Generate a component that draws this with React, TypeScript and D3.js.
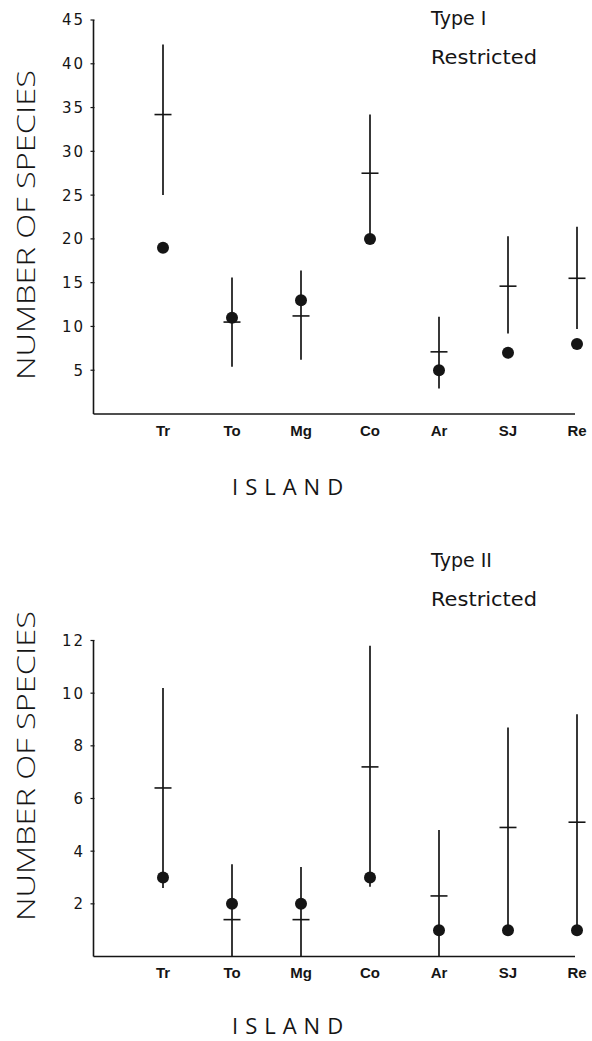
import React from "react";
import * as d3 from "d3";

const categories = ["Tr", "To", "Mg", "Co", "Ar", "SJ", "Re"];

// Type I restricted
const t1Upper = [42.2, 15.6, 16.4, 34.2, 11.1, 20.3, 21.4];
const t1Mean = [34.2, 10.5, 11.2, 27.5, 7.1, 14.6, 15.5];
const t1Lower = [25.0, 5.4, 6.2, 20.0, 2.9, 9.2, 9.7];
const t1Observed = [19, 11, 13, 20, 5, 7, 8];
const t1Ticks = [5, 10, 15, 20, 25, 30, 35, 40, 45];

// Type II restricted
const t2Upper = [10.2, 3.5, 3.4, 11.8, 4.8, 8.7, 9.2];
const t2Mean = [6.4, 1.4, 1.4, 7.2, 2.3, 4.9, 5.1];
const t2Lower = [2.6, 0, 0, 2.65, 0, 1.0, 1.0];
const t2Observed = [3, 2, 2, 3, 1, 1, 1];
const t2Ticks = [2, 4, 6, 8, 10, 12];

const INK = "#151515";

type PanelProps = {
  top: number;
  bottom: number;
  yMax: number;
  ticks: number[];
  upper: number[];
  mean: number[];
  lower: number[];
  observed: number[];
  title: string;
  titleY: number;
  restrictedY: number;
  labelCenter: number;
  islandY: number;
  catY: number;
};

function Panel(p: PanelProps) {
  const axisX = 93.5;
  const axisRight = 575;
  const y = d3.scaleLinear().domain([0, p.yMax]).range([p.bottom, p.top]);
  const x = d3.scalePoint<string>().domain(categories).range([163, 577]);
  return (
    <g>
      <line x1={axisX} x2={axisX} y1={y(p.yMax)} y2={p.bottom} stroke={INK} strokeWidth={1.6} />
      <line x1={axisX} x2={axisRight} y1={p.bottom} y2={p.bottom} stroke={INK} strokeWidth={1.6} />
      {p.ticks.map((t) => (
        <g key={t}>
          <line x1={axisX - 3} x2={axisX + 1} y1={y(t)} y2={y(t)} stroke={INK} strokeWidth={1.2} />
          <text
            x={85}
            y={y(t)}
            dy="0.36em"
            textAnchor="end"
            fontFamily="DejaVu Sans"
            fontSize={15}
            letterSpacing={2}
            fill={INK}
          >
            {String(t)}
          </text>
        </g>
      ))}
      {categories.map((c) => (
        <text
          key={c}
          x={x(c)}
          y={p.catY}
          textAnchor="middle"
          fontFamily="Liberation Sans"
          fontWeight="bold"
          fontSize={15}
          fill={INK}
        >
          {c}
        </text>
      ))}
      {categories.map((c, i) => {
        const cx = x(c) as number;
        return (
          <g key={c}>
            <line x1={cx} x2={cx} y1={y(p.upper[i])} y2={y(p.lower[i])} stroke={INK} strokeWidth={1.7} />
            <line x1={cx - 8.5} x2={cx + 8.5} y1={y(p.mean[i])} y2={y(p.mean[i])} stroke={INK} strokeWidth={1.6} />
            <circle cx={cx} cy={y(p.observed[i])} r={6} fill={INK} />
          </g>
        );
      })}
      <text x={431} y={p.titleY} fontFamily="DejaVu Sans" fontSize={19} fill={INK}>
        {p.title}
      </text>
      <text
        x={431}
        y={p.restrictedY}
        fontFamily="DejaVu Sans"
        fontSize={19}
        textLength={106}
        lengthAdjust="spacingAndGlyphs"
        fill={INK}
      >
        Restricted
      </text>
      <text
        transform={`translate(35,${p.labelCenter}) rotate(-90)`}
        textAnchor="middle"
        fontFamily="Open Sans"
        fontWeight={300}
        fontSize={25}
        textLength={310}
        lengthAdjust="spacingAndGlyphs"
        fill={INK}
      >
        NUMBER OF SPECIES
      </text>
      <text
        x={232}
        y={p.islandY}
        fontFamily="Open Sans"
        fontWeight={400}
        fontSize={22}
        letterSpacing={7}
        fill={INK}
      >
        ISLAND
      </text>
    </g>
  );
}

export default function App() {
  return (
    <svg width={592} height={1041} style={{ position: "absolute", left: 0, top: 0, background: "#fff" }}>
      <rect width={592} height={1041} fill="#fff" />
      <Panel
        top={20}
        bottom={414}
        yMax={45}
        ticks={t1Ticks}
        upper={t1Upper}
        mean={t1Mean}
        lower={t1Lower}
        observed={t1Observed}
        title="Type I"
        titleY={25}
        restrictedY={64}
        labelCenter={225}
        islandY={495}
        catY={436}
      />
      <Panel
        top={640.5}
        bottom={956.5}
        yMax={12}
        ticks={t2Ticks}
        upper={t2Upper}
        mean={t2Mean}
        lower={t2Lower}
        observed={t2Observed}
        title="Type II"
        titleY={567}
        restrictedY={606}
        labelCenter={766}
        islandY={1034}
        catY={978}
      />
    </svg>
  );
}
